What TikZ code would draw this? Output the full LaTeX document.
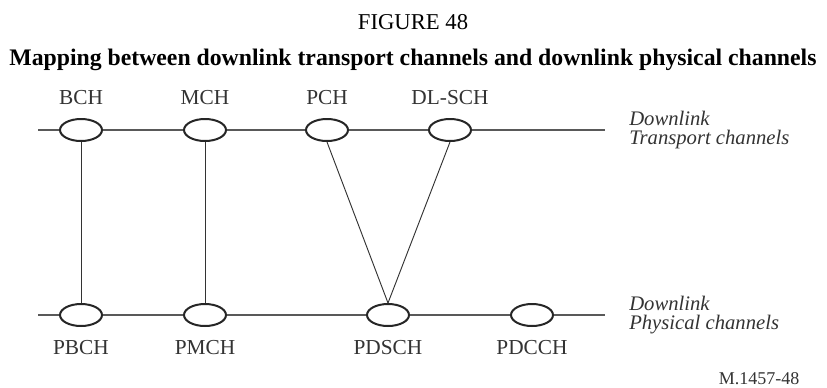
\documentclass[tikz,border=0pt]{standalone}
\usepackage{fontspec}
\setmainfont{Liberation Serif}
\usetikzlibrary{shapes.geometric}

\tikzset{
  chan/.style={ellipse, draw=black!85, line width=1.5pt, fill=white,
               minimum width=31.5pt, minimum height=16.5pt, inner sep=0pt},
  bus/.style={draw=black!65, line width=0.8pt},
  link/.style={draw=black!80, line width=0.7pt},
  lab/.style={text=black!80, font=\fontsize{16pt}{18pt}\selectfont},
  side/.style={text=black!80, anchor=west, align=left, inner sep=0pt,
               font=\fontsize{15.5pt}{14.5pt}\itshape}
}

\begin{document}
\begin{tikzpicture}[x=0.75pt,y=-0.75pt]
  \useasboundingbox (0,0) rectangle (827,387);

  % titel
  \node[lab, text=black, font=\fontsize{17pt}{18pt}\selectfont] (fig) at (413,22) {FIGURE 48};
  \node[lab, text=black, font=\fontsize{17.8pt}{20pt}\bfseries] (titel) at (413,60)
    {Mapping between downlink transport channels and downlink physical channels};

  % transportkanalen (boven)
  \coordinate (tl) at (38,130);
  \coordinate (tr) at (605,130);
  \node[chan] (bch) at (81,130) {};
  \node[chan] (mch) at (205,130) {};
  \node[chan] (pch) at (327,130) {};
  \node[chan] (dlsch) at (450,130) {};
  \path[bus] (tl) -- (bch) -- (mch) -- (pch) -- (dlsch) -- (tr);
  \node[lab] (bchlab) at (81,98) {BCH};
  \node[lab] (mchlab) at (205,98) {MCH};
  \node[lab] (pchlab) at (327,98) {PCH};
  \node[lab] (dlschlab) at (450,98) {DL-SCH};
  \node[side] (trans) at (629,130) {Downlink\\Transport channels};

  % fysieke kanalen (onder)
  \coordinate (bl) at (38,315);
  \coordinate (br) at (605,315);
  \node[chan] (pbch) at (81,315) {};
  \node[chan] (pmch) at (205,315) {};
  \node[chan] (pdsch) at (388,315) {};
  \node[chan] (pdcch) at (532,315) {};
  \path[bus] (bl) -- (pbch) -- (pmch) -- (pdsch) -- (pdcch) -- (br);
  \node[lab] (pbchlab) at (81,348) {PBCH};
  \node[lab] (pmchlab) at (205,348) {PMCH};
  \node[lab] (pdschlab) at (388,348) {PDSCH};
  \node[lab] (pdcchlab) at (532,348) {PDCCH};
  \node[side] (phys) at (629,315) {Downlink\\Physical channels};

  % mapping
  \path[link] (bch) -- (pbch);
  \path[link] (mch) -- (pmch);
  \path[link] (pch.south) -- (pdsch.north);
  \path[link] (dlsch.south) -- (pdsch.north);

  \node[lab, font=\fontsize{13.5pt}{15pt}\selectfont] (ref) at (759,379) {M.1457-48};
\end{tikzpicture}
\end{document}
